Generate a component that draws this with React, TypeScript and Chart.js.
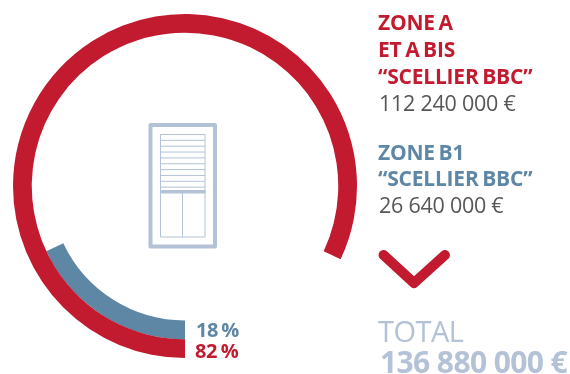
import React, { useEffect, useRef } from "react";
import { Chart, DoughnutController, ArcElement } from "chart.js";

Chart.register(DoughnutController, ArcElement);

// Share of each zone, in percent
const zoneShares = [82, 18];
const shareLabels = ["18 %", "82 %"];

const zoneATitle = ["ZONE A", "ET A BIS", "“SCELLIER BBC”"];
const zoneAAmount = "112 240 000 €";
const zoneBTitle = ["ZONE B1", "“SCELLIER BBC”"];
const zoneBAmount = "26 640 000 €";
const totalTitle = "TOTAL";
const totalAmount = "136 880 000 €";

const RED = "#c21b30";
const BLUE = "#5e87a6";
const GREY = "#565656";
const PALE = "#b3c2d6";
const NONE = "rgba(0,0,0,0)";
const FAMILY = '"Open Sans", "Noto Sans", sans-serif';

function write(
  ctx: CanvasRenderingContext2D,
  text: string,
  x: number,
  y: number,
  font: string,
  color: string,
  spacing = "0px",
  wordGap = "0px",
) {
  ctx.font = `${font} ${FAMILY}`;
  ctx.fillStyle = color;
  (ctx as any).letterSpacing = spacing;
  (ctx as any).wordSpacing = wordGap;
  ctx.textBaseline = "alphabetic";
  ctx.textAlign = "left";
  ctx.fillText(text, x, y);
}

// Window with a half-lowered shutter, in the middle of the ring
function drawWindow(ctx: CanvasRenderingContext2D) {
  ctx.save();
  ctx.strokeStyle = PALE;
  ctx.lineJoin = "round";
  ctx.lineWidth = 4;
  ctx.strokeRect(150.5, 125, 64.5, 121.5);
  ctx.lineWidth = 1;
  ctx.strokeRect(160.5, 134.5, 44.5, 102.5);
  for (let i = 1; i <= 9; i++) {
    const y = 134.5 + i * 5.85;
    ctx.beginPath();
    ctx.moveTo(160.5, y);
    ctx.lineTo(205, y);
    ctx.stroke();
  }
  ctx.fillStyle = PALE;
  ctx.fillRect(160, 190, 45.5, 3.5);
  ctx.beginPath();
  ctx.moveTo(182.5, 192);
  ctx.lineTo(182.5, 237);
  ctx.stroke();
  ctx.restore();
}

function drawChevron(ctx: CanvasRenderingContext2D) {
  ctx.save();
  ctx.strokeStyle = RED;
  ctx.lineWidth = 10;
  ctx.lineCap = "round";
  ctx.lineJoin = "round";
  ctx.beginPath();
  ctx.moveTo(383.5, 255);
  ctx.lineTo(414, 283);
  ctx.lineTo(445, 255);
  ctx.stroke();
  ctx.restore();
}

const annotations = {
  id: "annotations",
  afterDraw(chart: Chart) {
    const ctx = chart.ctx;
    ctx.save();
    drawWindow(ctx);
    drawChevron(ctx);

    write(ctx, shareLabels[0], 196, 337, "700 20px", BLUE, "-0.5px", "-1.2px");
    write(ctx, shareLabels[1], 195, 357.5, "700 20px", RED, "-0.4px", "-1.2px");

    const titleFont = "700 21px";
    const titleSpacing = "-0.2px";
    const titleGap = "-1.6px";
    [30, 57, 84].forEach((y, i) =>
      write(ctx, zoneATitle[i], 378, y, titleFont, RED, titleSpacing, titleGap),
    );
    write(ctx, zoneAAmount, 379, 110.5, "400 21.5px", GREY, "-0.25px");

    [160, 186].forEach((y, i) =>
      write(ctx, zoneBTitle[i], 378, y, titleFont, BLUE, titleSpacing, titleGap),
    );
    write(ctx, zoneBAmount, 379, 213, "400 21.5px", GREY, "-0.25px");

    write(ctx, totalTitle, 378, 342, "400 29px", PALE, "-0.5px");
    write(ctx, totalAmount, 380, 373, "700 30px", PALE, "-0.6px");
    ctx.restore();
  },
};

export default function App() {
  const ref = useRef<HTMLCanvasElement>(null);

  useEffect(() => {
    const chart = new Chart(ref.current!, {
      type: "doughnut",
      data: {
        labels: ["Zone A et A bis", "Zone B1"],
        datasets: [
          {
            data: zoneShares,
            backgroundColor: [RED, NONE],
            borderWidth: 0,
          },
          {
            data: [zoneShares[1], zoneShares[0]],
            backgroundColor: [BLUE, NONE],
            borderWidth: 0,
          },
        ],
      },
      options: {
        responsive: false,
        animation: false,
        rotation: 180,
        cutout: 134.5,
        radius: 172,
        events: [],
        layout: { padding: { left: 13, top: 14, right: 213, bottom: 16 } },
        plugins: { legend: { display: false }, tooltip: { enabled: false } },
      },
      plugins: [annotations],
    });
    return () => chart.destroy();
  }, []);

  return (
    <canvas
      ref={ref}
      width={570}
      height={374}
      style={{ position: "absolute", left: 0, top: 0, display: "block" }}
    />
  );
}
